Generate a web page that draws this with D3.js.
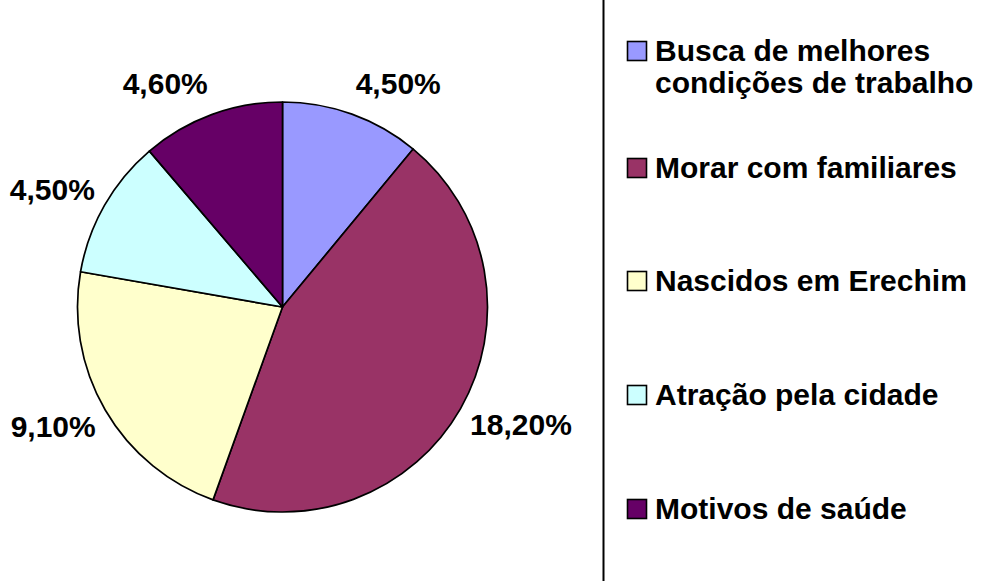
<!DOCTYPE html>
<html>
<head>
<meta charset="utf-8">
<script src="https://cdn.jsdelivr.net/npm/d3@7/dist/d3.min.js"></script>
<style>
  html, body { margin: 0; padding: 0; background: #fff; }
  svg { display: block; font-family: "Liberation Sans", Arial, sans-serif; font-weight: bold; }
</style>
</head>
<body>
<svg id="chart" width="982" height="581"></svg>
<script>
const categories = [
  ["Busca de melhores", "condições de trabalho"],
  ["Morar com familiares"],
  ["Nascidos em Erechim"],
  ["Atração pela cidade"],
  ["Motivos de saúde"]
];
const values = [4.5, 18.2, 9.1, 4.5, 4.6];
const valueLabels = ["4,50%", "18,20%", "9,10%", "4,50%", "4,60%"];
const colors = ["#9999FF", "#993366", "#FFFFCC", "#CCFFFF", "#660066"];

const svg = d3.select("#chart");
const cx = 282.5, cy = 307, r = 205;

const pie = d3.pie().sort(null).value(d => d);
const arcs = pie(values);
const arc = d3.arc().innerRadius(0).outerRadius(r);

const g = svg.append("g").attr("transform", `translate(${cx},${cy})`);
g.selectAll("path").data(arcs).enter().append("path")
  .attr("d", arc)
  .attr("fill", (d, i) => colors[i])
  .attr("stroke", "#000")
  .attr("stroke-width", 1.7)
  .attr("stroke-linejoin", "round");

// data labels
g.selectAll("text.lbl").data(arcs).enter().append("text")
  .attr("class", "lbl")
  .attr("font-size", 30)
  .attr("fill", "#000")
  .attr("text-anchor", d => Math.sin((d.startAngle + d.endAngle) / 2) >= 0 ? "start" : "end")
  .attr("x", d => 216 * Math.sin((d.startAngle + d.endAngle) / 2))
  .attr("y", d => -238 * Math.cos((d.startAngle + d.endAngle) / 2) + 10.5)
  .text((d, i) => valueLabels[i]);

// legend box
svg.append("rect")
  .attr("x", 603.5).attr("y", -10)
  .attr("width", 420).attr("height", 620)
  .attr("fill", "#fff").attr("stroke", "#000").attr("stroke-width", 2);

const rowBaselines = [61, 178, 291, 405, 519];
const leg = svg.append("g");
categories.forEach((lines, i) => {
  const by = rowBaselines[i];
  leg.append("rect")
    .attr("x", 627.5).attr("y", by - 19.5)
    .attr("width", 19).attr("height", 19)
    .attr("fill", colors[i]).attr("stroke", "#000").attr("stroke-width", 1.6);
  const t = leg.append("text")
    .attr("x", 655).attr("y", by)
    .attr("font-size", 30).attr("fill", "#000");
  lines.forEach((ln, j) => {
    t.append("tspan").attr("x", 655).attr("dy", j === 0 ? 0 : 32).text(ln);
  });
});
</script>
</body>
</html>
